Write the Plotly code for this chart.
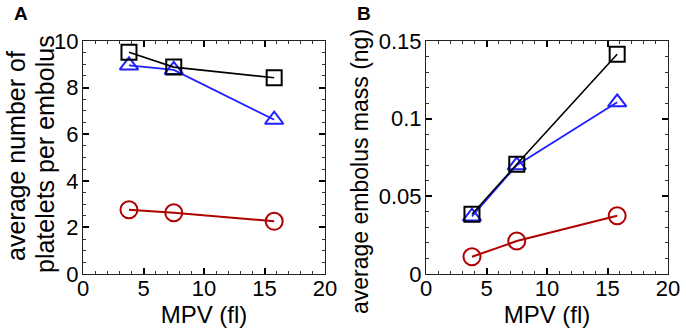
import plotly.graph_objects as go

mpv = [3.8, 7.5, 15.8]

# Panel A: average number of platelets per embolus
a_black = [9.52, 8.88, 8.42]
a_blue = [8.95, 8.76, 6.62]
a_red = [2.76, 2.63, 2.26]

# Panel B: average embolus mass (ng)
b_black = [0.0385, 0.0706, 0.1415]
b_blue = [0.0370, 0.0700, 0.1105]
b_red = [0.0111, 0.0212, 0.0375]

x_ticks = [0, 5, 10, 15, 20]
a_ticks = [0, 2, 4, 6, 8, 10]
b_ticks = [0, 0.05, 0.1, 0.15]
b_ticklabels = ["0", "0.05", "0.1", "0.15"]

BLACK = "#000000"
BLUE = "#2020ff"
RED = "#b00000"
FONT = "Liberation Sans, Arial, sans-serif"

fig = go.Figure()

def add_series(x, y, color, symbol, size, lw, xa, ya):
    fig.add_trace(go.Scatter(
        x=x, y=y, mode="lines+markers", xaxis=xa, yaxis=ya,
        line=dict(color=color, width=lw),
        marker=dict(symbol=symbol, size=size, color=color,
                    line=dict(color=color, width=2)),
        showlegend=False))

for xa, ya, blk, blu, red in [("x", "y", a_black, a_blue, a_red),
                              ("x2", "y2", b_black, b_blue, b_red)]:
    add_series(mpv, red, RED, "circle-open", 17, 2, xa, ya)
    add_series(mpv, blu, BLUE, "triangle-up-open", 16, 1.8, xa, ya)
    add_series(mpv, blk, BLACK, "square-open", 15, 1.6, xa, ya)

axis_common = dict(
    showgrid=False, zeroline=False, showline=True, linecolor="#222222",
    linewidth=1, mirror="allticks", ticks="inside", ticklen=6, tickwidth=1.5,
    tickcolor="#000000", tickfont=dict(family=FONT, size=22, color="black"),
    automargin=False,
)
minor_common = dict(ticks="inside", ticklen=3, tickcolor="#333333", tickwidth=1, showgrid=False)

ya_y = [1 - 274 / 335, 1 - 41 / 335]

fig.update_layout(
    width=686, height=335,
    margin=dict(l=0, r=0, t=0, b=0, autoexpand=False),
    paper_bgcolor="white", plot_bgcolor="white",
    font=dict(family=FONT, size=22, color="black"),
    xaxis=dict(domain=[83 / 686, 325 / 686], range=[0, 20], tickvals=x_ticks,
               minor=dict(dtick=1, **minor_common), ticklabelstandoff=-5,
               title=dict(text="MPV (fl)", font=dict(size=24), standoff=2),
               anchor="y", **axis_common),
    yaxis=dict(domain=ya_y, range=[0, 10], tickvals=a_ticks,
               minor=dict(dtick=0.5, **minor_common),
               ticklabelstandoff=-1,
               anchor="x", **axis_common),
    xaxis2=dict(domain=[426 / 686, 668 / 686], range=[0, 20], tickvals=x_ticks,
                minor=dict(dtick=1, **minor_common), ticklabelstandoff=-5,
                title=dict(text="MPV (fl)", font=dict(size=24), standoff=2),
                anchor="y2", **axis_common),
    yaxis2=dict(domain=ya_y, range=[0, 0.15], tickvals=b_ticks, ticktext=b_ticklabels,
                minor=dict(dtick=0.01, **minor_common),
                ticklabelstandoff=-1,
                anchor="x2", **axis_common),
)

def ytitle(text, xpx, ypx, size):
    fig.add_annotation(text=text, x=xpx / 686, y=1 - ypx / 335, xref="paper", yref="paper",
                       xanchor="center", yanchor="middle", textangle=-90, showarrow=False,
                       font=dict(family=FONT, size=size, color="black"))

ytitle("average number of", 16, 156, 25)
ytitle("platelets per embolus", 45, 154, 25)
ytitle("average embolus mass (ng)", 360, 171, 23)

fig.add_annotation(text="<b>A</b>", x=12 / 686, y=1 - 14 / 335, xref="paper", yref="paper",
                   xanchor="left", yanchor="middle", showarrow=False,
                   font=dict(family=FONT, size=19, color="black"))
fig.add_annotation(text="<b>B</b>", x=355 / 686, y=1 - 14 / 335, xref="paper", yref="paper",
                   xanchor="left", yanchor="middle", showarrow=False,
                   font=dict(family=FONT, size=19, color="black"))

fig.write_html("out.html", config={"displayModeBar": False},
               post_script="document.body.style.margin='0';document.body.style.overflow='hidden';")
